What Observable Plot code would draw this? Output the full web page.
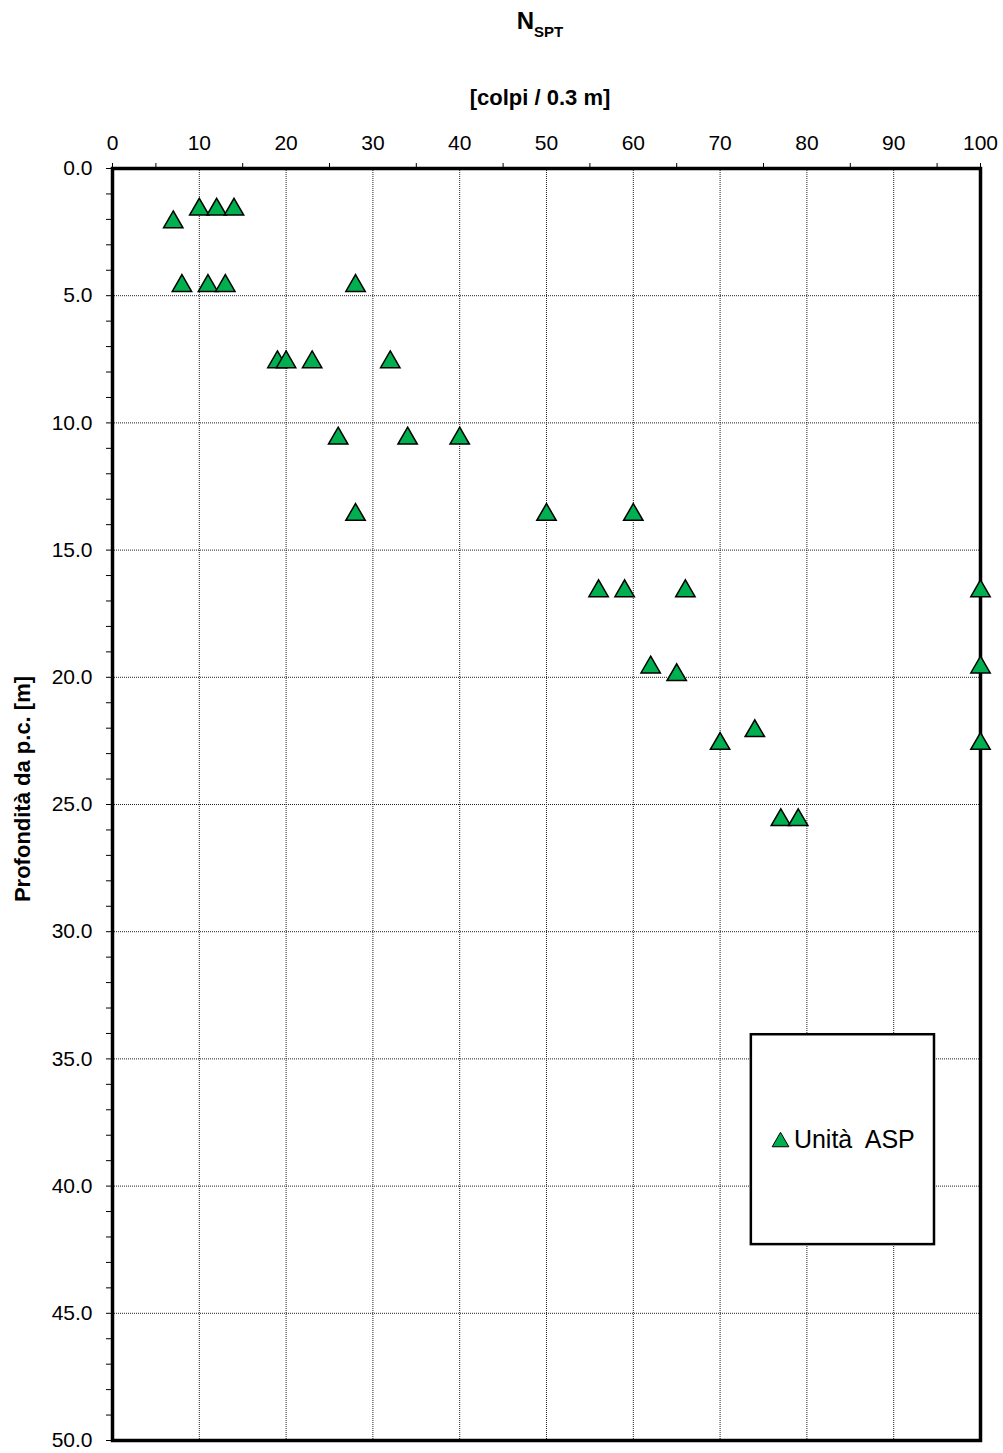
<!DOCTYPE html>
<html>
<head>
<meta charset="utf-8">
<script src="https://cdn.jsdelivr.net/npm/d3@7"></script>
<script src="https://cdn.jsdelivr.net/npm/@observablehq/plot@0.6"></script>
<style>
  body { margin: 0; background: #fff; }
  svg { display: block; }
</style>
</head>
<body>
<div id="chart"></div>
<script>
// Data: N_SPT blow counts and depth (m)
const nspt  = [10, 12, 14, 7, 8, 11, 13, 28, 19, 20, 23, 32, 26, 34, 40, 28, 50, 60, 56, 59, 66, 100, 62, 65, 100, 70, 74, 100, 77, 79];
const depth = [1.5, 1.5, 1.5, 2.0, 4.5, 4.5, 4.5, 4.5, 7.5, 7.5, 7.5, 7.5, 10.5, 10.5, 10.5, 13.5, 13.5, 13.5, 16.5, 16.5, 16.5, 16.5, 19.5, 19.8, 19.5, 22.5, 22.0, 22.5, 25.5, 25.5];

const xMajor = [0, 10, 20, 30, 40, 50, 60, 70, 80, 90, 100];
const xMinorTicks = [0, 5, 15, 25, 35, 45, 55, 65, 75, 85, 95, 100];
const xGrid = [10, 20, 30, 40, 50, 60, 70, 80, 90];
const yMajor = [0, 5, 10, 15, 20, 25, 30, 35, 40, 45, 50];
const yMinor = d3.range(0, 51, 1);
const yGrid = [5, 10, 15, 20, 25, 30, 35, 40, 45];

const titleMain = "N";
const titleSub = "SPT";
const subtitle = "[colpi / 0.3 m]";
const yLabel = "Profondità da p.c. [m]";
const seriesName = "Unità\u00a0 ASP";

// legend box placement (in data units)
const legendBox = [{x1: 73.6, x2: 94.7, y1: 34.05, y2: 42.3}];
const legendItem = [{x: 76.96, y: 38.17, tx: 78.5, label: seriesName}];

const data = nspt.map((v, i) => ({x: v, y: depth[i]}));

const green = "#00b050";
const font = "Liberation Sans, Arial, Helvetica, sans-serif";

const plot = Plot.plot({
  width: 1003,
  height: 1453,
  marginTop: 168,
  marginBottom: 13,
  marginLeft: 112,
  marginRight: 23,
  style: {fontFamily: font, background: "#fff", color: "#000"},
  x: {domain: [0, 100]},
  y: {domain: [0, 50], reverse: true},
  marks: [
    Plot.gridX(xGrid, {stroke: "#222", strokeOpacity: 1, strokeWidth: 1, strokeDasharray: "1,1"}),
    Plot.gridY(yGrid, {stroke: "#222", strokeOpacity: 1, strokeWidth: 1, strokeDasharray: "1,1"}),
    Plot.axisX(xMinorTicks, {anchor: "top", tickSize: 6, text: null, label: null, strokeWidth: 1}),
    Plot.axisX(xMajor, {anchor: "top", tickSize: 0, tickPadding: 19, fontSize: 21, label: null}),
    Plot.axisY(yMinor, {anchor: "left", tickSize: 6, text: null, label: null, strokeWidth: 1}),
    Plot.axisY(yMajor, {anchor: "left", tickSize: 0, tickPadding: 20, fontSize: 21, tickFormat: d3.format(".1f"), label: null}),
    Plot.rect(legendBox, {x1: "x1", x2: "x2", y1: "y1", y2: "y2", fill: "#fff", stroke: "#000", strokeWidth: 2.5}),
    Plot.dot(legendItem, {x: "x", y: "y", symbol: "triangle", r: 6.2, fill: green, stroke: "#000", strokeWidth: 1, dy: 2.4}),
    Plot.text(legendItem, {x: "tx", y: "y", text: "label", textAnchor: "start", fontSize: 25, fill: "#000"}),
    Plot.frame({stroke: "#000", strokeWidth: 3.5}),
    Plot.dot(data, {x: "x", y: "y", symbol: "triangle", r: 7.2, fill: green, stroke: "#000", strokeWidth: 1.5, dy: 2.8})
  ]
});

const svg = d3.select(plot);
// Title N_SPT
const t = svg.append("text")
  .attr("x", 540).attr("y", 29)
  .attr("text-anchor", "middle")
  .attr("font-family", font)
  .attr("font-weight", "bold")
  .attr("fill", "#000");
t.append("tspan").attr("font-size", 24).text(titleMain);
t.append("tspan").attr("font-size", 15).attr("dy", 8).text(titleSub);

svg.append("text")
  .attr("x", 540).attr("y", 105)
  .attr("text-anchor", "middle")
  .attr("font-family", font)
  .attr("font-weight", "bold")
  .attr("font-size", 22)
  .attr("fill", "#000")
  .text(subtitle);

svg.append("text")
  .attr("transform", "translate(30,789) rotate(-90)")
  .attr("text-anchor", "middle")
  .attr("font-family", font)
  .attr("font-weight", "bold")
  .attr("font-size", 22)
  .attr("fill", "#000")
  .text(yLabel);

document.getElementById("chart").appendChild(plot);
</script>
</body>
</html>
